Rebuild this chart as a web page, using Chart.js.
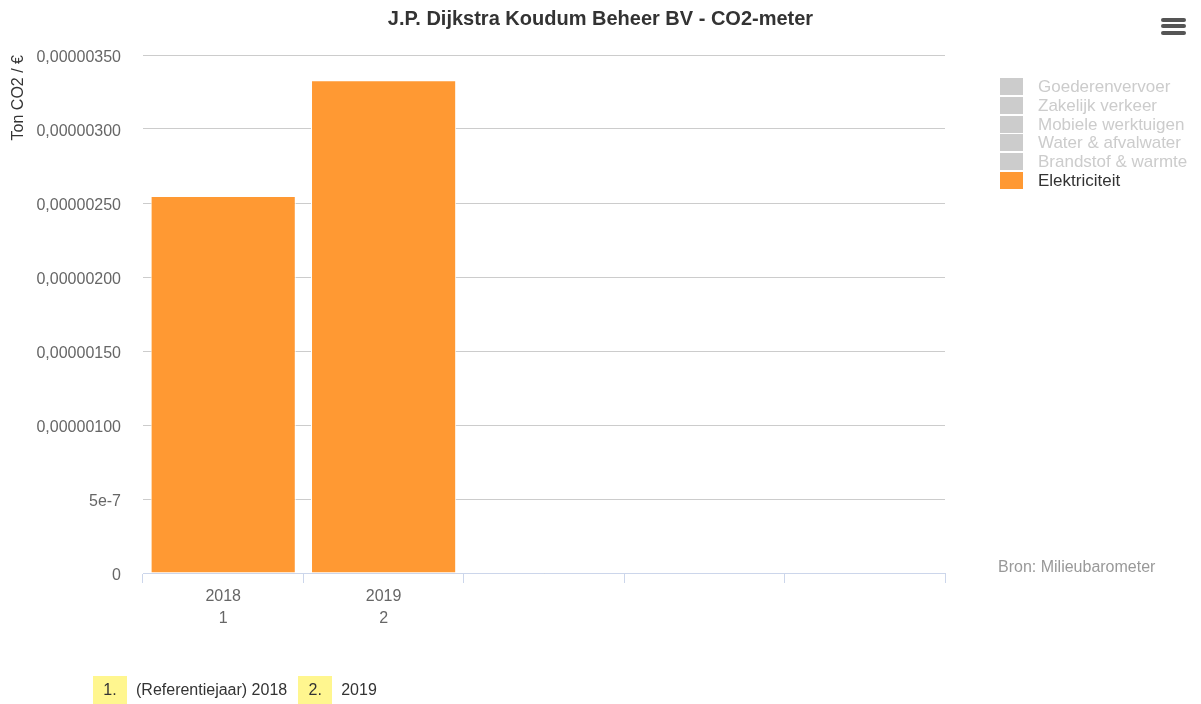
<!DOCTYPE html>
<html>
<head>
<meta charset="utf-8">
<script src="https://cdn.jsdelivr.net/npm/chart.js@4"></script>
<style>
  body { margin: 0; background: #fff; font-family: "Liberation Sans", Arial, sans-serif; }
  #wrap { position: relative; width: 1201px; height: 704px; }
  #chart { position: absolute; left: 0; top: 0; }
  .legend { position: absolute; left: 1000px; top: 78px; font-size: 17px; }
  .legend div { height: 18.8px; line-height: 17px; white-space: nowrap; }
  .legend span.box { display: inline-block; width: 23px; height: 17px; vertical-align: top; margin-right: 15px; }
  .burger { position: absolute; left: 1161px; top: 18px; width: 25px; }
  .burger div { height: 4px; background: #555; border-radius: 2px; margin-bottom: 2.4px; }
  .bron { position: absolute; left: 998px; top: 558px; font-size: 16px; color: #999; }
  .years { position: absolute; left: 93px; top: 676px; font-size: 16px; color: #333; }
  .years span.num { display: inline-block; background: #fff68f; width: 34px; height: 28px; line-height: 28px; text-align: center; margin-right: 9px; }
  .years span.lbl { margin-right: 11px; }
</style>
</head>
<body>
<div id="wrap">
  <canvas id="chart" width="1201" height="704"></canvas>
  <div class="burger"><div></div><div></div><div></div></div>
  <div class="legend" id="legend"></div>
  <div class="bron">Bron: Milieubarometer</div>
  <div class="years" id="years"></div>
</div>
<script>
// data
var categories = [["2018", "1"], ["2019", "2"], "", "", ""];
var elektriciteit = [0.000002548, 0.000003330, null, null, null];
var seriesNames = ["Goederenvervoer", "Zakelijk verkeer", "Mobiele werktuigen", "Water & afvalwater", "Brandstof & warmte", "Elektriciteit"];
var seriesActive = [false, false, false, false, false, true];
var yTickLabels = ["0", "5e-7", "0,00000100", "0,00000150", "0,00000200", "0,00000250", "0,00000300", "0,00000350"];
var yearNumbers = ["1.", "2."];
var yearLabels = ["(Referentiejaar) 2018", "2019"];

var orange = "#ff9933";

// legend right
var legendHtml = "";
for (var i = 0; i < seriesNames.length; i++) {
    var c = seriesActive[i] ? orange : "#cccccc";
    var tc = seriesActive[i] ? "#333333" : "#cccccc";
    legendHtml += '<div style="color:' + tc + '"><span class="box" style="background:' + c + '"></span>' + seriesNames[i].replace("&", "&amp;") + '</div>';
}
document.getElementById("legend").innerHTML = legendHtml;

var yearsHtml = "";
for (var j = 0; j < yearNumbers.length; j++) {
    yearsHtml += '<span class="num">' + yearNumbers[j] + '</span><span class="lbl">' + yearLabels[j] + '</span>';
}
document.getElementById("years").innerHTML = yearsHtml;

Chart.defaults.font.family = '"Liberation Sans", Arial, sans-serif';

var ctx = document.getElementById("chart").getContext("2d");
new Chart(ctx, {
    type: "bar",
    data: {
        labels: categories,
        datasets: [{
            label: "Elektriciteit",
            data: elektriciteit,
            backgroundColor: orange,
            borderColor: "#ffffff",
            borderWidth: 1,
            categoryPercentage: 1,
            barPercentage: 0.905,
            yAxisID: "y"
        }]
    },
    options: {
        responsive: false,
        animation: false,
        plugins: {
            legend: { display: false },
            tooltip: { enabled: false },
            title: {
                display: true,
                text: "J.P. Dijkstra Koudum Beheer BV - CO2-meter",
                color: "#333333",
                font: { size: 20, weight: "bold" },
                padding: { top: 7, bottom: 24 }
            }
        },
        scales: {
            x: {
                grid: { drawOnChartArea: false, drawTicks: true, tickLength: 10, color: "#ccd6eb", offset: true },
                border: { color: "#ccd6eb" },
                ticks: { color: "#666666", font: { size: 16, lineHeight: 1.4 }, padding: 2, maxRotation: 0 },
                afterFit: function (s) { s.height = 131; }
            },
            y: {
                min: 0,
                max: 0.0000035,
                grid: { color: "#cccccc", drawTicks: false },
                border: { display: false },
                ticks: {
                    stepSize: 0.0000005,
                    color: "#666666",
                    font: { size: 16 },
                    padding: 22,
                    labelOffset: 3,
                    callback: function (v, idx) { return yTickLabels[idx]; }
                },
                title: {
                    display: true,
                    text: "Ton CO2 / €",
                    align: "end",
                    color: "#333333",
                    font: { size: 16 },
                    padding: { top: 9, bottom: 0 }
                },
                afterFit: function (s) { s.width = 143; }
            },
            yRight: {
                position: "right",
                display: true,
                grid: { display: false },
                border: { display: false },
                ticks: { display: false },
                afterFit: function (s) { s.width = 256; }
            }
        }
    }
});
</script>
</body>
</html>
